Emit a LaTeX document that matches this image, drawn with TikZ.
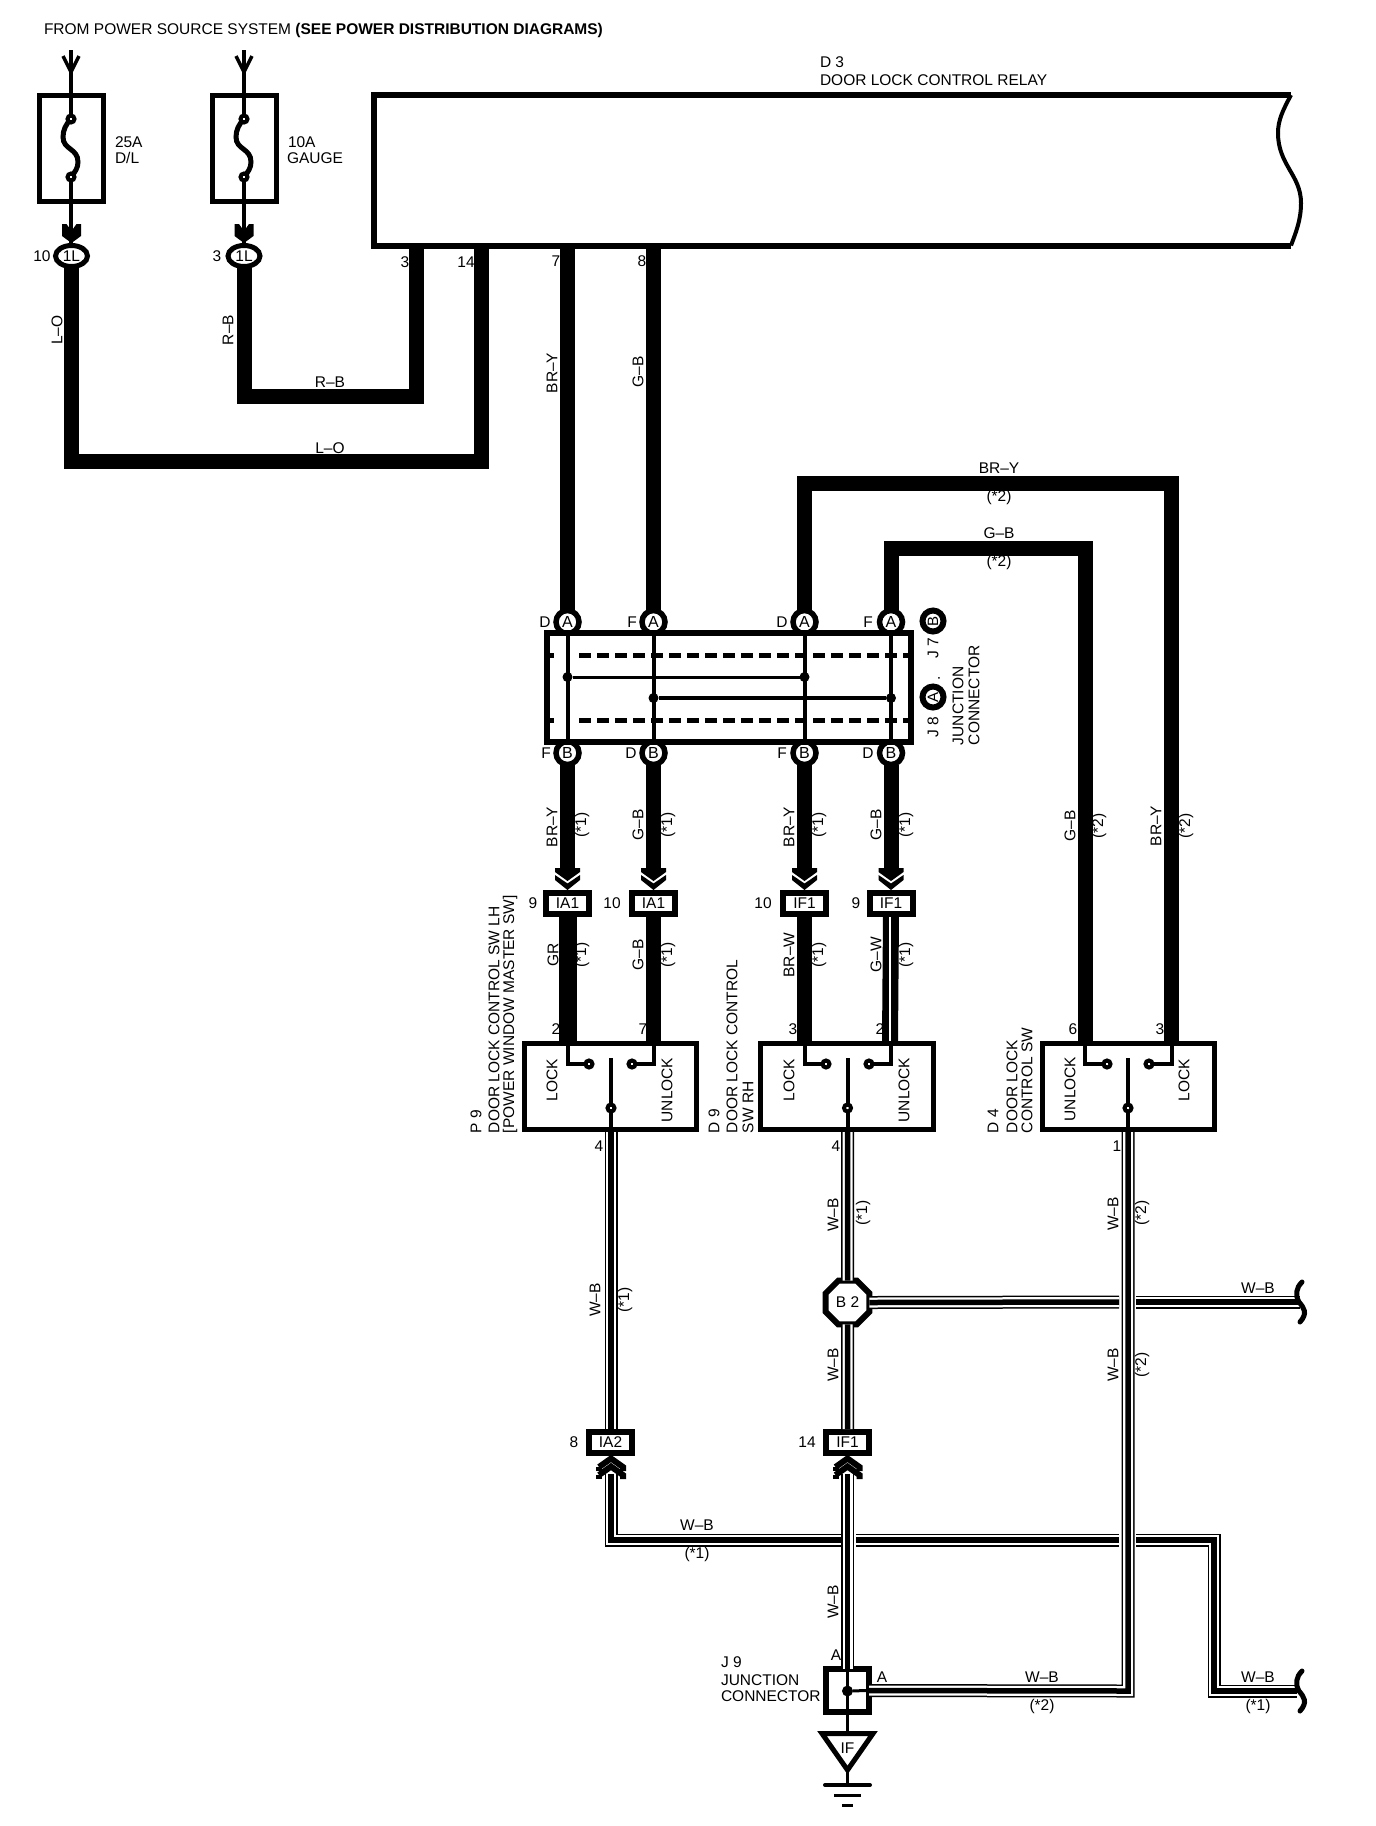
\documentclass[tikz,border=0pt]{standalone}
\usepackage{fontspec}
\setmainfont{Liberation Sans}
\usetikzlibrary{shapes.geometric}
\newcounter{lb}
\newcommand\hl[2]{\stepcounter{lb}\node[lab] (lb\thelb) at (#1) {#2};}
\newcommand\hlw[2]{\stepcounter{lb}\node[lab,anchor=west] (lb\thelb) at (#1) {#2};}
\newcommand\vl[2]{\stepcounter{lb}\node[lab,rotate=90] (lb\thelb) at (#1) {#2};}
\newcommand\vlw[2]{\stepcounter{lb}\node[lab,rotate=90,anchor=west] (lb\thelb) at (#1) {#2};}
\newcommand\wbwire[1]{\draw[wbOut] #1; \draw[wbMid] #1; \draw[wbCore] #1;}
\newcommand\arrdown[2]{\begin{scope}[shift={(#1,#2)}]
  \fill (-12.5,2)--(12.5,2)--(12.5,6)--(0,15)--(-12.5,6)--cycle;
  \fill (-12.5,9)--(0,17.5)--(12.5,9)--(12.5,14)--(0,24)--(-12.5,14)--cycle;
\end{scope}}
\newcommand\arrup[2]{\begin{scope}[shift={(#1,#2)}]
  \draw[chev] (-12,11)--(0,2.5)--(12,11)--(12,15);
  \draw[chev] (-12,11)--(-12,15);
  \draw[chev] (-12,19)--(0,10.5)--(12,19)--(12,23);
  \draw[chev] (-12,19)--(-12,23);
\end{scope}}
\newcommand\inbarb[1]{\draw[line width=3.5pt] (#1-8,56)--(#1,72)--(#1+8,56);}
\newcommand\inhead[1]{\fill (#1-9.5,224)--(#1-5,224)--(#1,231)--(#1+5,224)--(#1+9.5,224)--(#1+9.5,236)--(#1,243)--(#1-9.5,236)--cycle;}
\newcommand\fusewave[1]{\draw[line width=5pt] (#1,119) .. controls (#1-5,124) and (#1-8,130) .. (#1-8,137) .. controls (#1-8,150) and (#1+7,148) .. (#1+7,162) .. controls (#1+7,168) and (#1+4,172) .. (#1,177);}
\tikzset{
  lab/.style={font=\fontsize{15.5}{17}\selectfont,inner sep=0pt,outer sep=0pt},
  boxn/.style={draw,fill=white,rectangle,line width=5pt,inner sep=0pt,outer sep=0pt,font=\fontsize{15.5}{17}\selectfont},
  conn/.style={boxn,line width=6pt,minimum width=43pt,minimum height=21pt},
  ring/.style={draw,fill=white,circle,line width=5.5pt,minimum size=23pt,inner sep=0pt,outer sep=0pt,font=\fontsize{16}{17}\selectfont},
  blackring/.style={draw,fill=white,circle,line width=6pt,minimum size=21pt,inner sep=0pt,outer sep=0pt,font=\fontsize{15}{16}\selectfont},
  oval/.style={draw,fill=white,ellipse,line width=5pt,minimum width=32pt,minimum height=21pt,inner sep=0pt,outer sep=0pt,font=\fontsize{15.5}{17}\selectfont},
  contact/.style={draw,fill=white,circle,line width=4pt,minimum size=7pt,inner sep=0pt,outer sep=0pt},
  bigdot/.style={fill=black,circle,minimum size=10pt,inner sep=0pt,outer sep=0pt},
  heavy/.style={line width=15pt,line join=miter},
  inner/.style={line width=4pt,line join=miter},
  wbOut/.style={line width=13pt,line join=miter},
  wbMid/.style={white,line width=10pt,line join=miter},
  wbCore/.style={line width=5.5pt,line join=miter},
  chev/.style={line width=6pt,line join=miter},
  dashline/.style={line width=5pt,dash pattern=on 12pt off 6pt},
}
\begin{document}
\begin{tikzpicture}[x=1pt,y=-1pt]
\useasboundingbox (0,0) rectangle (1376,1826);
\fill[white] (0,0) rectangle (1376,1826);

% ---------- labels (lie under the wires)
\hlw{44,30}{FROM POWER SOURCE SYSTEM {\bfseries (SEE POWER DISTRIBUTION DIAGRAMS)}}
\hlw{115,142}{25A} \hlw{115,158}{D/L}
\hlw{288,142}{10A} \hlw{287,158}{GAUGE}
\hlw{820,62}{D 3} \hlw{820,80}{DOOR LOCK CONTROL RELAY}
\hl{42,256}{10} \hl{217,256}{3}
\hl{405,262}{3} \hl{466,262}{14} \hl{556,261}{7} \hl{642,261}{8}
\vl{57,330}{L–O} \vl{228,330}{R–B}
\hl{330,382}{R–B} \hl{330,448}{L–O}
\vl{552,373}{BR–Y} \vl{638,372}{G–B}
\hl{999,468}{BR–Y} \hl{999,497}{(*2)} \hl{999,533}{G–B} \hl{999,562}{(*2)}
% junction letters
\hl{545,622}{D} \hl{632,622}{F} \hl{782,622}{D} \hl{868,622}{F}
\hl{546,753}{F} \hl{631,753}{D} \hl{782,753}{F} \hl{868,753}{D}
\vl{933,648}{J 7} \vl{939,678}{.} \vl{933,727}{J 8}
\vlw{958,745}{JUNCTION} \vlw{974,745}{CONNECTOR}
% upper branch labels
\vl{552,827}{BR–Y} \vl{582,825}{(*1)} \vl{638,825}{G–B} \vl{668,825}{(*1)}
\vl{789,827}{BR–Y} \vl{819,825}{(*1)} \vl{876,825}{G–B} \vl{906,825}{(*1)}
\vl{1070,826}{G–B} \vl{1099,826}{(*2)} \vl{1156,826}{BR–Y} \vl{1186,826}{(*2)}
\hl{533,903}{9} \hl{612,903}{10} \hl{763,903}{10} \hl{856,903}{9}
\vl{553,955}{GR} \vl{582,955}{(*1)} \vl{638,955}{G–B} \vl{668,955}{(*1)}
\vl{789,955}{BR–W} \vl{819,955}{(*1)} \vl{876,955}{G–W} \vl{906,955}{(*1)}
% switch captions
\vlw{476,1133}{P 9} \vlw{494,1133}{DOOR LOCK CONTROL SW LH} \vlw{510,1133}{[POWER WINDOW MASTER SW]}
\vlw{714,1133}{D 9} \vlw{732,1133}{DOOR LOCK CONTROL} \vlw{748,1133}{SW RH}
\vlw{993,1133}{D 4} \vlw{1012,1133}{DOOR LOCK} \vlw{1027,1133}{CONTROL SW}
\hl{556,1029}{2} \hl{643,1029}{7} \hl{793,1029}{3} \hl{880,1029}{2} \hl{1073,1029}{6} \hl{1160,1029}{3}
\hl{599,1146}{4} \hl{836,1146}{4} \hl{1117,1146}{1}
% lower labels
\vl{833,1215}{W–B} \vl{863,1213}{(*1)} \vl{833,1365}{W–B}
\vl{595,1300}{W–B} \vl{625,1300}{(*1)}
\vl{1113,1214}{W–B} \vl{1142,1213}{(*2)} \vl{1113,1365}{W–B} \vl{1142,1365}{(*2)}
\hl{1258,1288}{W–B}
\hl{574,1442}{8} \hl{807,1442}{14}
\hl{697,1525}{W–B} \hl{697,1554}{(*1)}
\vl{833,1602}{W–B}
\hlw{721,1662}{J 9} \hlw{721,1680}{JUNCTION} \hlw{721,1696}{CONNECTOR}
\hl{836,1655}{A} \hl{882,1677}{A}
\hl{1042,1677}{W–B} \hl{1042,1706}{(*2)} \hl{1258,1677}{W–B} \hl{1258,1706}{(*1)}

% ---------- components
\node[boxn,minimum width=64pt,minimum height=106pt] (fuse1) at (71,148) {};
\node[boxn,minimum width=64pt,minimum height=106pt] (fuse2) at (244,148) {};
\fusewave{71} \fusewave{244}
\node[contact] (f1a) at (71,119) {}; \node[contact] (f1b) at (71,177) {};
\node[contact] (f2a) at (244,119) {}; \node[contact] (f2b) at (244,177) {};
\node[oval] (cL1) at (71.5,256) {1L};
\node[oval] (cL2) at (244,256) {1L};
\coordinate (in1) at (71,50); \coordinate (in2) at (244,50);

% relay
\draw[line width=6pt,line join=miter] (1291,95) -- (374,95) -- (374,245.5) -- (1291,245.5);
\draw[line width=4pt] (1291,95) .. controls (1283,110) and (1278,120) .. (1278,133) .. controls (1278,165) and (1301,175) .. (1301,203) .. controls (1301,220) and (1296,232) .. (1291,245.5);
\coordinate (rel3) at (416.5,245.5); \coordinate (rel14) at (481,245.5);
\coordinate (rel7) at (567.5,245.5); \coordinate (rel8) at (653.5,245.5);

% junction block
\node[ring] (ja1) at (567.5,622) {A}; \node[ring] (ja2) at (653.5,622) {A};
\node[ring] (ja3) at (804.5,622) {A}; \node[ring] (ja4) at (891,622) {A};
\node[ring] (jb1) at (567.5,753) {B}; \node[ring] (jb2) at (653.5,753) {B};
\node[ring] (jb3) at (804.5,753) {B}; \node[ring] (jb4) at (891,753) {B};
\node[boxn,line width=6pt,minimum width=364pt,minimum height=109pt] (jblock) at (729,687.5) {};
\draw[dashline] (549,655)--(554,655) (579,655)--(911,655);
\draw[dashline] (549,720)--(554,720) (579,720)--(911,720);
\node[blackring,rotate=90] (j7) at (933,621) {B};
\node[blackring,rotate=90] (j8) at (933,697) {A};
\node[bigdot] (d1) at (567.5,677) {}; \node[bigdot] (d2) at (804.5,677) {};
\node[bigdot] (d3) at (653.5,698) {}; \node[bigdot] (d4) at (891,698) {};
\draw[line width=3pt] (d1)--(d2);
\draw[line width=4pt] (d3)--(d4);
\foreach \x in {567.5,653.5,804.5,891} \draw[line width=4pt] (\x,633)--(\x,742);

% inline connectors
\node[conn] (ia1a) at (567.5,903.5) {IA1};
\node[conn] (ia1b) at (653.5,903.5) {IA1};
\node[conn] (if1a) at (804.5,903.5) {IF1};
\node[conn] (if1b) at (891,903.5) {IF1};
\node[conn] (ia2) at (610.5,1442.5) {IA2};
\node[conn] (if1c) at (847.5,1442.5) {IF1};

% switches
\node[boxn,minimum width=172pt,minimum height=86pt] (sw1) at (610.5,1086.5) {};
\node[boxn,minimum width=173pt,minimum height=86pt] (sw2) at (847,1086.5) {};
\node[boxn,minimum width=172pt,minimum height=86pt] (sw3) at (1128.5,1086.5) {};
\vl{552,1080}{LOCK} \vl{667,1090}{UNLOCK}
\vl{789,1080}{LOCK} \vl{904,1090}{UNLOCK}
\vl{1070,1089}{UNLOCK} \vl{1184,1080}{LOCK}
\node[contact] (s1l) at (589,1064) {}; \node[contact] (s1r) at (632,1064) {}; \node[contact] (s1c) at (611,1108) {};
\node[contact] (s2l) at (826,1064) {}; \node[contact] (s2r) at (869,1064) {}; \node[contact] (s2c) at (847.5,1108) {};
\node[contact] (s3l) at (1107,1064) {}; \node[contact] (s3r) at (1149,1064) {}; \node[contact] (s3c) at (1128,1108) {};
\coordinate (s1a) at (567.5,1043.5); \coordinate (s1b) at (653.5,1043.5); \coordinate (s1o) at (611,1129.5); \coordinate (s1t) at (611,1058);
\coordinate (s2a) at (804.5,1043.5); \coordinate (s2b) at (891,1043.5); \coordinate (s2o) at (847.5,1129.5); \coordinate (s2t) at (847.5,1058);
\coordinate (s3a) at (1085,1043.5); \coordinate (s3b) at (1171.5,1043.5); \coordinate (s3o) at (1128,1129.5); \coordinate (s3t) at (1128,1058);
\draw[inner] (s1a) |- (s1l.west); \draw[inner] (s1b) |- (s1r.east);
\draw[inner] (s2a) |- (s2l.west); \draw[inner] (s2b) |- (s2r.east);
\draw[inner] (s3a) |- (s3l.west); \draw[inner] (s3b) |- (s3r.east);
\draw[inner] (s1t)--(s1c.north) (s1c.south)--(s1o);
\draw[inner] (s2t)--(s2c.north) (s2c.south)--(s2o);
\draw[inner] (s3t)--(s3c.north) (s3c.south)--(s3o);

% splice and junction connector, ground
\node[draw,fill=white,regular polygon,regular polygon sides=8,line width=6pt,minimum size=47.5pt,inner sep=0pt,outer sep=0pt,font=\fontsize{15.5}{17}\selectfont] (b2) at (847.5,1302.5) {B 2};
\node[boxn,line width=6pt,minimum size=43pt] (j9) at (847.5,1690.5) {};
\node[bigdot,minimum size=11pt] (j9d) at (847.5,1691) {};
\coordinate (gapex) at (847.5,1733.5);
\coordinate (apex) at (847.5,1770);
\coordinate (gnd1) at (847.5,1785);
\draw[line width=5pt,line join=miter,fill=white] (822,1733.5)--(873,1733.5)--(apex)--cycle;
\node[lab] (gif) at (847.5,1748) {IF};
\draw[line width=3pt] (j9.north)--(j9.south)--(gapex);
\draw[line width=3pt] (apex)--(gnd1);
\draw[line width=4pt,line cap=round] (825,1785)--(870,1785);
\draw[line width=3pt] (834,1795)--(861,1795);
\draw[line width=3pt] (842,1805)--(853,1805);

% ---------- power feeds
\draw[line width=4pt] (in1)--(f1a.north) (f1b.south)--(71,243);
\draw[line width=4pt] (in2)--(f2a.north) (f2b.south)--(244,243);
\inbarb{71} \inbarb{244} \inhead{71.5} \inhead{244}
\coordinate (cLO) at (300,461.5); \coordinate (cRB) at (300,396);
\draw[heavy] (cL1.south) |- (cLO) -| (rel14);
\draw[heavy] (cL2.south) |- (cRB) -| (rel3);

% ---------- heavy wires to the junction block
\draw[heavy] (rel7)--(ja1.north);
\draw[heavy] (rel8)--(ja2.north);
\coordinate (tBRY) at (1000,483.5); \coordinate (tGB) at (1000,548);
\coordinate (s3pa) at (1085,1043.5); \coordinate (s3pb) at (1171.5,1043.5);
\draw[heavy] (ja3.north) |- (tBRY) -| (s3pb);
\draw[heavy] (ja4.north) |- (tGB) -| (s3pa);
\draw[heavy] (jb1.south)--(567.5,875);
\draw[heavy] (jb2.south)--(653.5,875);
\draw[heavy] (jb3.south)--(804.5,875);
\draw[heavy] (jb4.south)--(891,875);
\arrdown{567.5}{866} \arrdown{653.5}{866} \arrdown{804.5}{866} \arrdown{891}{866}
\draw[line width=18pt] (ia1a.south)--(567.5,1041);
\draw[heavy] (ia1b.south)--(653.5,1041);
\draw[heavy] (if1a.south)--(804.5,1041);
\draw[line width=16pt] (if1b.south)--(890,1041);
\draw[white,line width=1.5pt] (890,917)--(890,1041);

% ---------- W-B wires
\coordinate (w1a) at (611,1132); \coordinate (w2a) at (847.5,1132); \coordinate (w3a) at (1128,1132);
\coordinate (ia2t) at (611,1429); \coordinate (if1t) at (847.5,1429);
\wbwire{(w1a)--(ia2t)}
\wbwire{(w2a)--(b2.north)}
\wbwire{(b2.south)--(if1t)}
\wbwire{(b2.east)--(1119,1302)}
\wbwire{(1136,1302)--(1300,1302)}
\wbwire{(611,1474)--(611,1540)--(841,1540)}
\wbwire{(856,1540)--(1119,1540)}
\wbwire{(1136,1540)--(1214,1540)--(1214,1691)--(1297,1691)}
\wbwire{(w3a)--(1128,1691)--(j9.east)}
\wbwire{(847.5,1474)--(j9.north)}
\arrup{611}{1456} \arrup{847.5}{1456}
\draw[line width=5pt,line cap=round] (1302,1282) .. controls (1296,1288) and (1295,1295) .. (1299,1302) .. controls (1304,1308) and (1308,1313) .. (1300,1322);
\draw[line width=5pt,line cap=round] (1302,1671) .. controls (1296,1677) and (1295,1684) .. (1299,1691) .. controls (1304,1697) and (1308,1702) .. (1300,1711);
\draw[line width=3pt] (j9d)--(j9.east);
\end{tikzpicture}
\end{document}
